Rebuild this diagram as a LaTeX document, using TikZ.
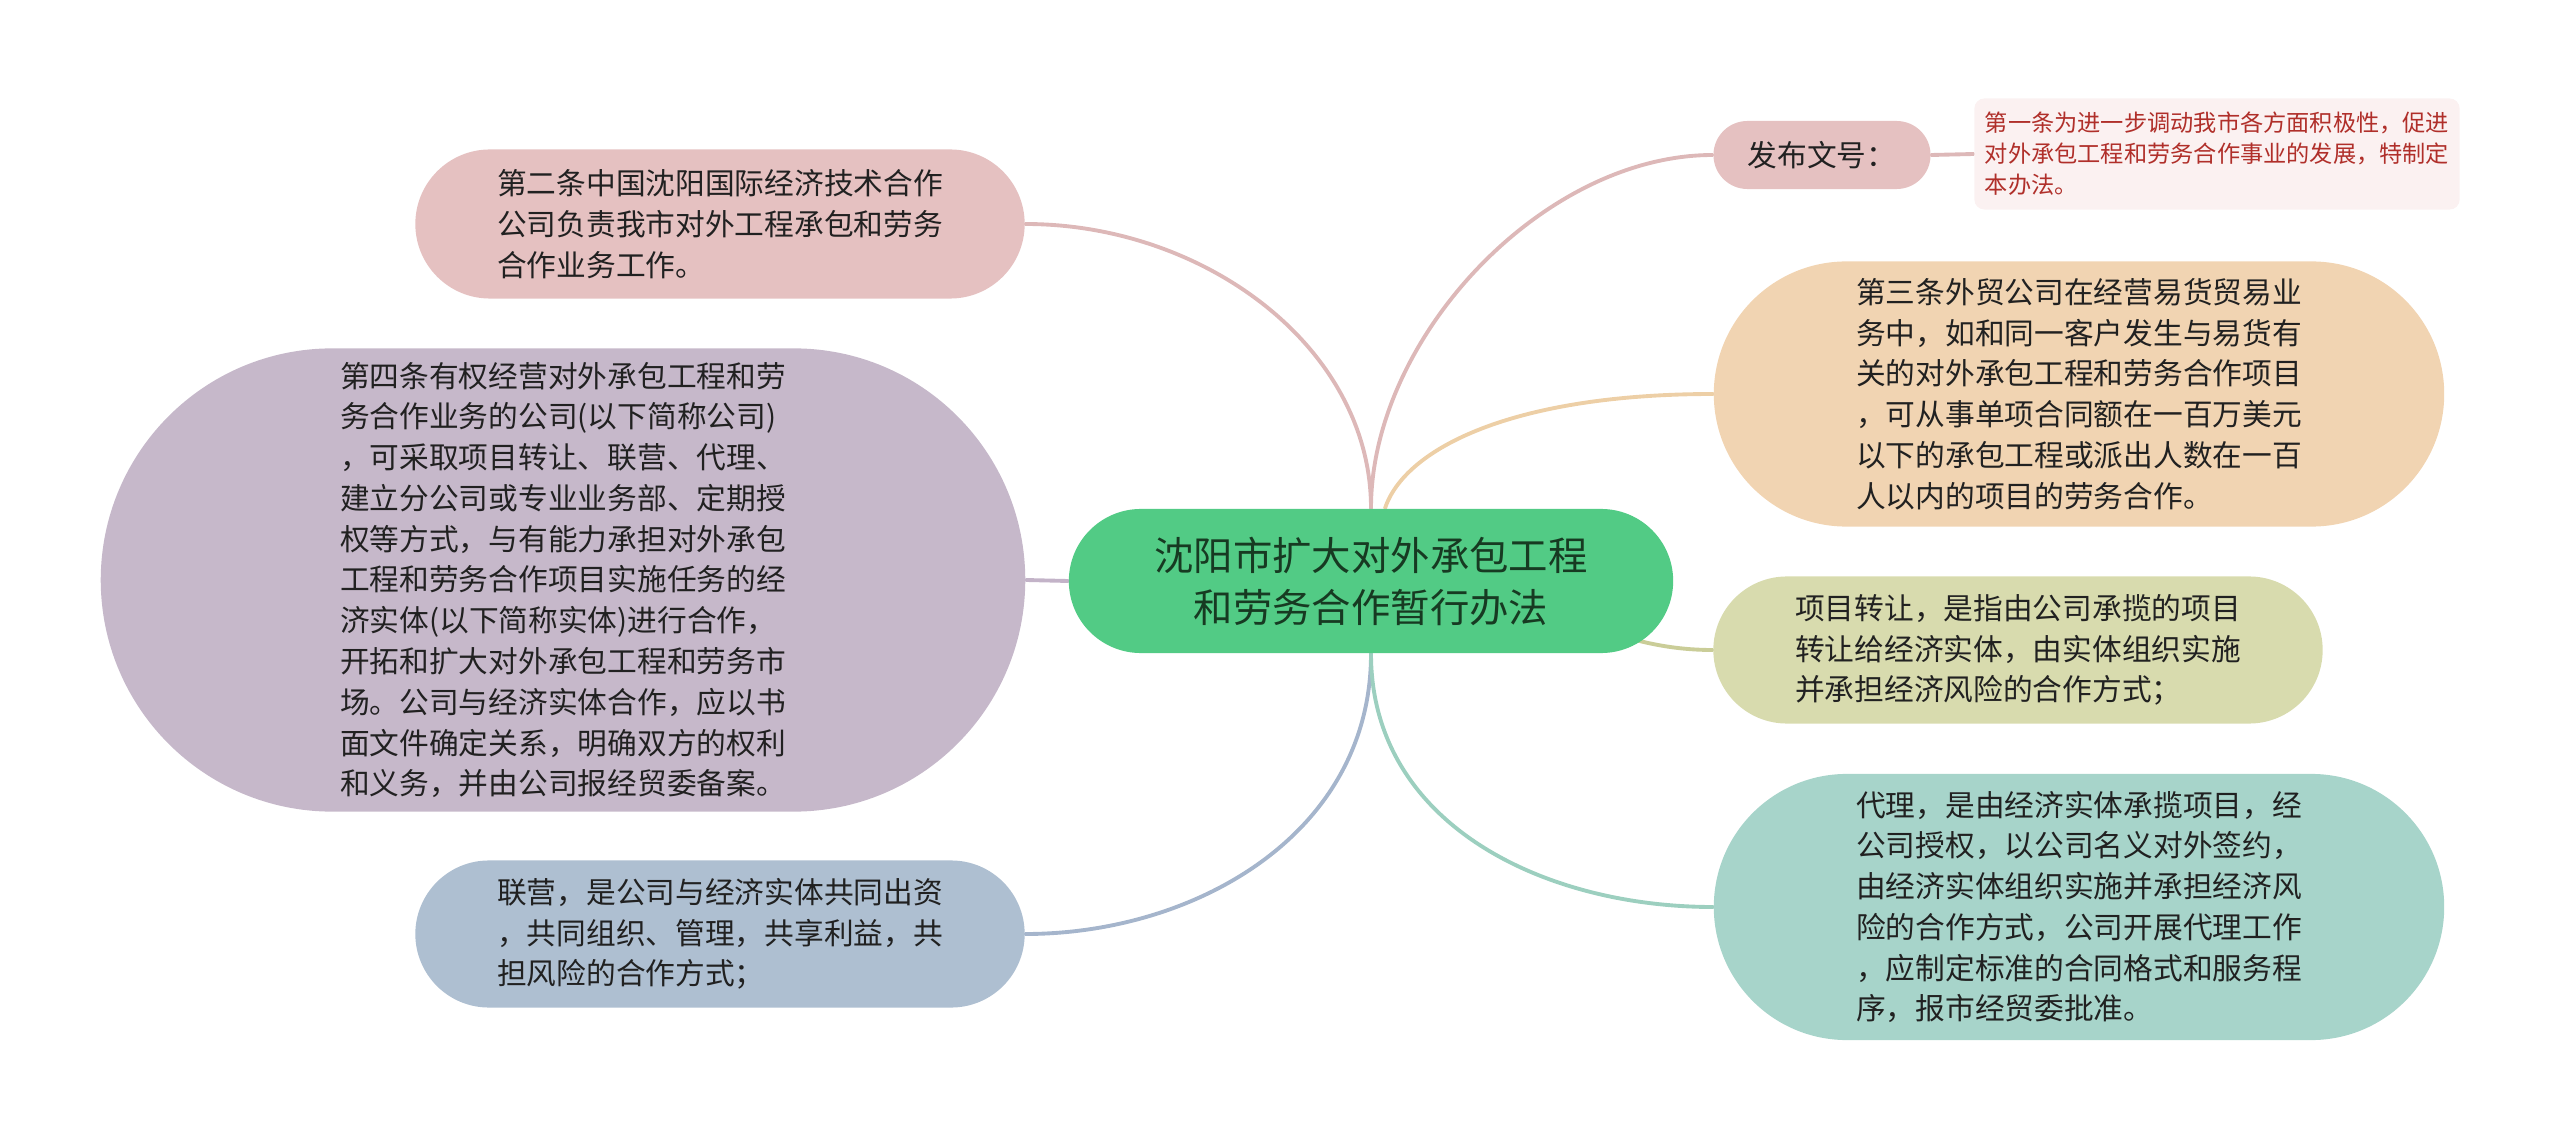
\documentclass[tikz,border=0pt]{standalone}
\usepackage{fontspec}
\newfontfamily\cjk{Noto Sans CJK SC}
\usetikzlibrary{shapes.misc,backgrounds}
\definecolor{root fill}{HTML}{52CB85}
\definecolor{root text}{HTML}{173A22}
\definecolor{rose}{HTML}{E5C1C1}
\definecolor{rose edge}{HTML}{DDB8B8}
\definecolor{lilac}{HTML}{C6B8CA}
\definecolor{lilac edge}{HTML}{C3B3C8}
\definecolor{slate}{HTML}{AEBFD1}
\definecolor{slate edge}{HTML}{A5B5CC}
\definecolor{peach}{HTML}{F1D4B2}
\definecolor{peach edge}{HTML}{EDCFA6}
\definecolor{khaki}{HTML}{D8DBAE}
\definecolor{khaki edge}{HTML}{CACD98}
\definecolor{teal}{HTML}{A7D4CA}
\definecolor{teal edge}{HTML}{9CCFBF}
\definecolor{note fill}{HTML}{FBF1F1}
\definecolor{note text}{HTML}{B02F2A}
\tikzset{topic/.style={rounded rectangle, inner sep=0pt, align=left, text=black!87,
		font=\cjk\fontsize{8.45}{11.6}\selectfont},
	link/.style={line width=1.1pt, line cap=round}}

\begin{document}
\begin{tikzpicture}[x=0.01cm,y=-0.01cm]
		\useasboundingbox (0,0) rectangle (2560,1140);
		\node[topic, fill=root fill, text=root text, align=center, minimum width=6.04cm, minimum height=1.44cm,
			font=\cjk\fontsize{11.2}{14.8}\selectfont] (root) at (1371,581) {沈阳市扩大对外承包工程\\和劳务合作暂行办法};
		
		\node[topic, fill=rose, minimum width=6.09cm, minimum height=1.49cm] (tiao2) at (720,224) {第二条中国沈阳国际经济技术合作\\公司负责我市对外工程承包和劳务\\合作业务工作。};
		\node[topic, fill=lilac, minimum width=9.24cm, minimum height=4.63cm] (tiao4) at (563,580) {第四条有权经营对外承包工程和劳\\务合作业务的公司(以下简称公司)\\，可采取项目转让、联营、代理、\\建立分公司或专业业务部、定期授\\权等方式，与有能力承担对外承包\\工程和劳务合作项目实施任务的经\\济实体(以下简称实体)进行合作，\\开拓和扩大对外承包工程和劳务市\\场。公司与经济实体合作，应以书\\面文件确定关系，明确双方的权利\\和义务，并由公司报经贸委备案。};
		\node[topic, fill=slate, minimum width=6.09cm, minimum height=1.47cm] (lianying) at (720,934) {联营，是公司与经济实体共同出资\\，共同组织、管理，共享利益，共\\担风险的合作方式；};
		
		\node[topic, fill=rose, align=center, minimum width=2.17cm, minimum height=0.68cm] (fabu) at (1822,155) {发布文号：};
		\node[draw=none, fill=note fill, rounded corners=0.1cm, inner sep=0pt, align=left, text=note text,
			minimum width=4.85cm, minimum height=1.11cm, font=\cjk\fontsize{6.6}{8.8}\selectfont] (note) at (2217,154) {第一条为进一步调动我市各方面积极性，促进\\对外承包工程和劳务合作事业的发展，特制定\\本办法。};
		\node[topic, fill=peach, minimum width=7.30cm, minimum height=2.65cm] (tiao3) at (2079,394) {第三条外贸公司在经营易货贸易业\\务中，如和同一客户发生与易货有\\关的对外承包工程和劳务合作项目\\，可从事单项合同额在一百万美元\\以下的承包工程或派出人数在一百\\人以内的项目的劳务合作。};
		\node[topic, fill=khaki, minimum width=6.09cm, minimum height=1.47cm] (zhuanrang) at (2018,650) {项目转让，是指由公司承揽的项目\\转让给经济实体，由实体组织实施\\并承担经济风险的合作方式；};
		\node[topic, fill=teal, minimum width=7.30cm, minimum height=2.66cm] (daili) at (2079,907) {代理，是由经济实体承揽项目，经\\公司授权，以公司名义对外签约，\\由经济实体组织实施并承担经济风\\险的合作方式，公司开展代理工作\\，应制定标准的合同格式和服务程\\序，报市经贸委批准。};
		
		\begin{scope}[on background layer]
			\draw[link, rose edge] (root.north) .. controls +(0,-160) and +(180,0) .. (tiao2.east);
			\draw[link, lilac edge] (root.west) -- (tiao4.east);
			\draw[link, slate edge] (root.south) .. controls +(0,180) and +(170,0) .. (lianying.east);
			\draw[link, rose edge] (root.north) .. controls +(0,-170) and +(-170,0) .. (fabu.west);
			\draw[link, rose edge] (fabu.east) -- (note.west);
			\draw[link, peach edge] ([xshift=0.14cm]root.north) .. controls +(20,-60) and +(-200,0) .. (tiao3.west);
			\draw[link, khaki edge] (root.center) .. controls +(170,0) and +(-120,0) .. (zhuanrang.west);
			\draw[link, teal edge] (root.south) .. controls +(0,170) and +(-170,0) .. (daili.west);
		\end{scope}
	\end{tikzpicture}
\end{document}
